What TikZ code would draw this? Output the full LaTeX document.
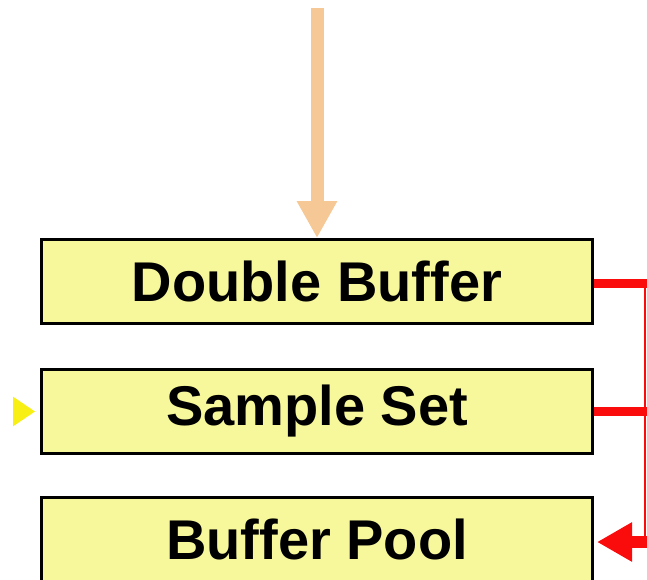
\documentclass[tikz,border=0pt]{standalone}
\usepackage{fontspec}
\setmainfont{Liberation Sans}
\usetikzlibrary{arrows.meta}

\definecolor{boxfill}{RGB}{247,247,155}
\definecolor{peach}{RGB}{245,200,150}
\definecolor{lemon}{RGB}{248,240,20}
\definecolor{signalred}{RGB}{250,12,12}

\tikzset{
  bufbox/.style={draw=black, fill=boxfill, line width=3pt,
    minimum width=551pt, minimum height=84pt, inner sep=0pt,
    font=\fontsize{56}{60}\selectfont\bfseries},
  feedarrow/.style={draw=peach, line width=13pt,
    -{Triangle[width=38pt,length=37pt]}},
  inarrow/.style={draw=lemon, line width=3pt,
    -{Triangle[width=29pt,length=22pt]}, shorten >=5pt},
  redthick/.style={draw=signalred, line width=8.5pt},
  redthin/.style={draw=signalred, line width=2.5pt},
  redarrow/.style={draw=signalred, line width=12pt,
    -{Triangle[width=37pt,length=35pt]}, shorten >=3pt}
}

\begin{document}
\begin{tikzpicture}[x=1pt, y=-1pt]
  \useasboundingbox (0,0) rectangle (647,580);

  % the three buffer stages
  \node[bufbox] (dbl)  at (317,281.5) {Double Buffer};
  \node[bufbox] (smp)  at (317,411.5) {Sample Set};
  \node[bufbox] (pool) at (317,539.5) {Buffer Pool};

  % incoming data from above
  \coordinate (src) at (317,8);
  \draw[feedarrow] (src) -- (dbl.north);

  % input entering the sample set from the left (only the head shows)
  \coordinate (lin) at (14,411.5);
  \draw[inarrow] (lin) -- (smp.west);

  % return path on the right side back to the pool
  \coordinate (r1) at (660,283.5);
  \coordinate (r2) at (660,411.5);
  \coordinate (r3) at (660,542);
  \coordinate (v1) at (645,280);
  \coordinate (v2) at (645,542);
  \draw[redthick] ([yshift=-2pt]dbl.east) -- (r1);
  \draw[redthick] (smp.east) -- (r2);
  \draw[redthin] (v1) -- (v2);
  \draw[redarrow] (r3) -- ([yshift=-2.5pt]pool.east);
\end{tikzpicture}
\end{document}
